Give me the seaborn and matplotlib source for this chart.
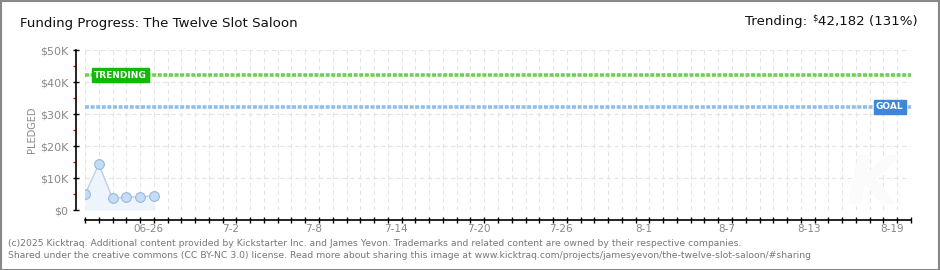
import matplotlib
matplotlib.use("Agg")
import matplotlib.pyplot as plt
import matplotlib.dates as mdates
import matplotlib.ticker as mticker
import seaborn as sns
import pandas as pd
import numpy as np
from matplotlib.patches import Rectangle

# ---- data ----
dates = ["2025-06-22", "2025-06-23", "2025-06-24", "2025-06-25", "2025-06-26", "2025-06-27"]
pledged = [4900, 14300, 3650, 4050, 4050, 4450]
goal = 32200
trending = 42182
trend_pct = 131
x_start = "2025-06-22"
x_end = "2025-08-21"
tick_labels = ["06-26", "7-2", "7-8", "7-14", "7-20", "7-26", "8-1", "8-7", "8-13", "8-19"]
tick_label_dates = ["2025-06-26", "2025-07-02", "2025-07-08", "2025-07-14", "2025-07-20",
                    "2025-07-26", "2025-08-01", "2025-08-07", "2025-08-13", "2025-08-19"]
title = "Funding Progress: The Twelve Slot Saloon"
footer1 = ("(c)2025 Kicktraq. Additional content provided by Kickstarter Inc. and James Yevon. "
           "Trademarks and related content are owned by their respective companies.")
footer2 = ("Shared under the creative commons (CC BY-NC 3.0) license. Read more about sharing this "
           "image at www.kicktraq.com/projects/jamesyevon/the-twelve-slot-saloon/#sharing")

sns.set_theme(style="white")
plt.rcParams['font.family'] = ['DejaVu Sans']

W, H = 940, 270
fig = plt.figure(figsize=(W / 100, H / 100), dpi=100)
fig.patch.set_facecolor("white")

def px(x0, y0, x1, y1):
    return [x0 / W, 1 - y1 / H, (x1 - x0) / W, (y1 - y0) / H]

ax = fig.add_axes(px(85, 50, 911, 210))
ax.set_facecolor("white")

df = pd.DataFrame({"date": pd.to_datetime(dates), "pledged": pledged})
ax.fill_between(df["date"], 0, df["pledged"], color="#eef4fc", zorder=1, linewidth=0)
sns.lineplot(data=df, x="date", y="pledged", ax=ax, color="#b4d2f0", linewidth=1,
             marker="o", markersize=7, markerfacecolor="#c4dcf6", markeredgecolor="#9ab8d8",
             markeredgewidth=0.8, zorder=4)

ax.set_xlim(pd.Timestamp(x_start), pd.Timestamp(x_end))
ax.set_ylim(0, 50000)

# reference lines
ax.axhline(trending, color="#6fd04f", linewidth=2.6, linestyle=(0, (1.1, 0.45)), zorder=3)
ax.axhline(goal, color="#8fbfea", linewidth=2.6, linestyle=(0, (1.1, 0.45)), zorder=3)

ax.text(pd.Timestamp(x_start) + pd.Timedelta(days=0.65), trending, "TRENDING", color="white",
        fontsize=6.5, fontweight="bold", va="center", ha="left", zorder=6,
        bbox=dict(boxstyle="square,pad=0.25", fc="#14b80a", ec="#14b80a"))
ax.text(pd.Timestamp(x_end) - pd.Timedelta(days=0.55), goal, "GOAL", color="white",
        fontsize=6.5, fontweight="bold", va="center", ha="right", zorder=6,
        bbox=dict(boxstyle="square,pad=0.25", fc="#3d87d8", ec="#3d87d8"))

# grid
ax.xaxis.set_major_locator(mdates.DayLocator())
ax.set_yticks(np.arange(0, 50001, 10000))
ax.grid(True, which="major", color="#e4e4e4", linestyle=(0, (4, 3)), linewidth=0.8)
ax.set_axisbelow(True)

# y axis
ax.yaxis.set_major_formatter(mticker.FuncFormatter(lambda v, p: "$0" if v == 0 else f"${int(v/1000)}K"))
ax.yaxis.set_minor_locator(mticker.MultipleLocator(5000))
ax.tick_params(axis="y", which="major", left=True, direction="inout", length=5, width=1,
               color="black", labelsize=8, labelcolor="#888888", pad=3)
ax.tick_params(axis="y", which="minor", left=True, direction="out", length=2.5, width=1,
               color="#e00000")
ax.set_ylabel("PLEDGED", fontsize=7, color="#888888", labelpad=2)

# x axis
ax.tick_params(axis="x", which="major", bottom=True, direction="inout", length=5, width=1,
               color="black", labelbottom=False)
lbl_pos = [mdates.date2num(pd.Timestamp(d)) + 0.6 for d in tick_label_dates]
ax.xaxis.set_minor_locator(mticker.FixedLocator(lbl_pos))
ax.xaxis.set_minor_formatter(mticker.FixedFormatter(tick_labels))
ax.tick_params(axis="x", which="minor", bottom=True, length=0, labelbottom=True, labelsize=7.5,
               labelcolor="#888888", pad=3)
ax.set_xlabel("")

for s in ["top", "right"]:
    ax.spines[s].set_visible(False)
ax.spines["left"].set_position(("outward", 6.5))
ax.spines["bottom"].set_position(("outward", 7.2))
for s in ["left", "bottom"]:
    ax.spines[s].set_color("black")
    ax.spines[s].set_linewidth(1.2)

# watermark
fig.text(872 / W, 1 - 185 / H, "K", fontsize=48, color="#fbfbfb", ha="center", va="center",
         style="italic", fontweight="bold", zorder=0)

# titles
fig.text(20 / W, 1 - 23 / H, title, fontsize=9.6, color="#111111", ha="left", va="center")

fig.canvas.draw()
renderer = fig.canvas.get_renderer()
t_val = fig.text(918 / W, 1 - 22 / H, f"{trending:,} ({trend_pct}%)", fontsize=9.6,
                 color="#111111", ha="right", va="center")
bb = t_val.get_window_extent(renderer)
x_left = bb.x0
t_dollar = fig.text((x_left - 1) / W, 1 - 18 / H, "$", fontsize=6, color="#111111",
                    ha="right", va="center")
bb2 = t_dollar.get_window_extent(renderer)
fig.text((bb2.x0 - 5) / W, 1 - 22 / H, "Trending:", fontsize=9.6, color="#111111",
         ha="right", va="center")

fig.text(8 / W, 1 - 243 / H, footer1, fontsize=6.7, color="#777777", ha="left", va="center")
fig.text(8 / W, 1 - 255 / H, footer2, fontsize=6.7, color="#777777", ha="left", va="center")

# border
fig.patches.append(Rectangle((0.5 / W, 0.5 / H), 1 - 1.5 / W, 1 - 1.5 / H, transform=fig.transFigure,
                             fill=False, edgecolor="#888888", linewidth=1.5))

fig.savefig("out.png", dpi=100, facecolor="white")
